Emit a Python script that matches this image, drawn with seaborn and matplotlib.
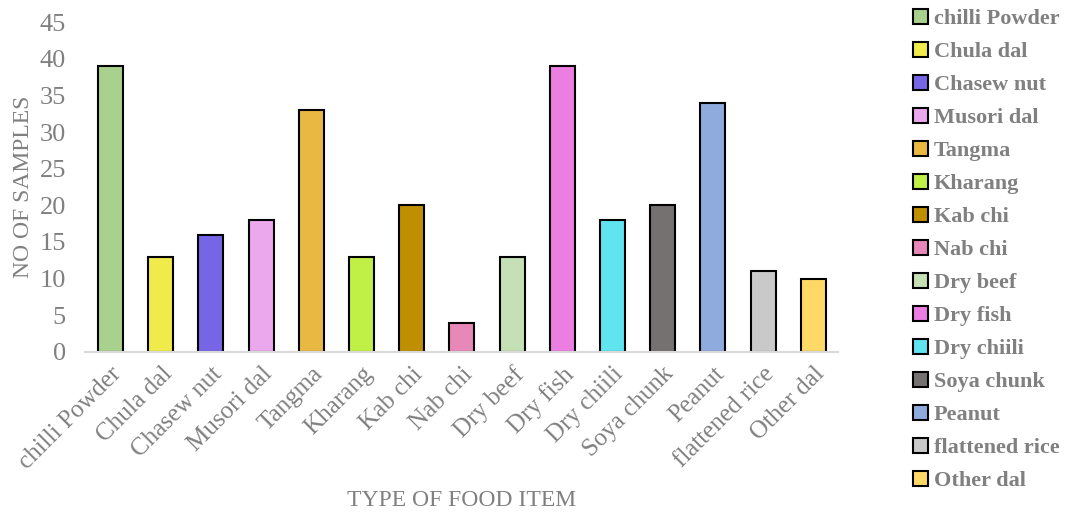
import matplotlib
matplotlib.use('Agg')
import matplotlib.pyplot as plt
import seaborn as sns
import pandas as pd

foods = ['chilli Powder', 'Chula dal', 'Chasew nut', 'Musori dal', 'Tangma', 'Kharang',
         'Kab chi', 'Nab chi', 'Dry beef', 'Dry fish', 'Dry chiili', 'Soya chunk',
         'Peanut', 'flattened rice', 'Other dal']
samples = [39, 13, 16, 18, 33, 13, 20, 4, 13, 39, 18, 20, 34, 11, 10]
colors = ['#A9D18E', '#F0EB4A', '#7666E6', '#ECA8EC', '#E9B843', '#C0EF45', '#BF8F00',
          '#E888B8', '#C5E0B4', '#EB7EE0', '#60E4F0', '#767171', '#8FAADC', '#C9C9C9',
          '#FFD966']
yticks = [0, 5, 10, 15, 20, 25, 30, 35, 40, 45]

df = pd.DataFrame({'food': foods, 'n': samples})

sns.set_style('white')
plt.rcParams['font.family'] = ['Liberation Serif', 'DejaVu Serif']
grey = '#808080'

fig = plt.figure(figsize=(10.68, 5.13), dpi=100)
ax = fig.add_axes([0.080, 0.314, 0.705, 0.643])

sns.barplot(data=df, x='food', y='n', hue='food', palette=colors, order=foods,
            hue_order=foods, width=0.5, edgecolor='black', linewidth=1.5,
            saturation=1, dodge=False, legend=True, ax=ax)

ax.set_ylim(0, 45)
ax.set_xlim(-0.5, len(foods) - 0.5)
ax.set_yticks(yticks)
ax.tick_params(axis='y', length=0, labelsize=19, labelcolor=grey, pad=14)
ax.set_xticks(range(len(foods)))
ax.set_xticklabels(foods, rotation=45, ha='right', rotation_mode='anchor')
ax.tick_params(axis='x', which='major', length=0, labelsize=18, labelcolor=grey, pad=8)
ax.set_xticks([i - 0.5 for i in range(len(foods) + 1)], minor=True)
ax.tick_params(axis='x', which='minor', length=6, width=1.2, color='#D9D9D9', direction='out')

for s in ['top', 'right', 'left']:
    ax.spines[s].set_visible(False)
ax.spines['bottom'].set_color('#D9D9D9')
ax.spines['bottom'].set_linewidth(1.5)

ax.set_ylabel('NO OF SAMPLES', fontsize=17, color=grey, labelpad=4)
ax.set_xlabel('TYPE OF FOOD ITEM', fontsize=17, color=grey, labelpad=12)

sns.move_legend(ax, 'upper left', bbox_to_anchor=(0.836, 1.022),
                bbox_transform=fig.transFigure, frameon=False, title=None,
                handlelength=0.7, handleheight=0.7, handletextpad=0.25,
                labelspacing=0.56, prop={'size': 16, 'weight': 'bold'},
                labelcolor=grey)

fig.savefig('out.png', dpi=100)
